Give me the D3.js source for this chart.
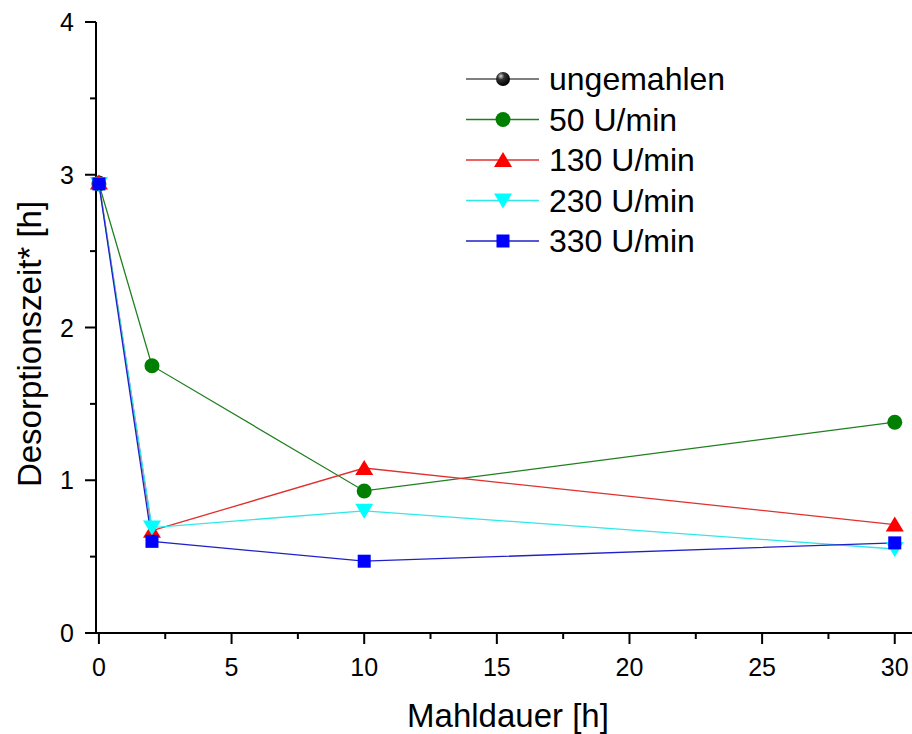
<!DOCTYPE html>
<html>
<head>
<meta charset="UTF-8">
<title>Desorptionszeit</title>
<script src="https://d3js.org/d3.v7.min.js"></script>
<style>
	body { margin: 0; background: #fff; }
	text { font-family: "Liberation Sans", Arial, sans-serif; }
</style>
</head>
<body>
	<div id="chart"></div>
	<script type="text/javascript">
		// Mahldauer [h]
		var mahldauer = [0, 2, 10, 30];
		var ungemahlen = [2.95];
		var u50 = [2.94, 1.75, 0.93, 1.38];
		var u130 = [2.95, 0.67, 1.08, 0.71];
		var u230 = [2.94, 0.69, 0.80, 0.55];
		var u330 = [2.94, 0.60, 0.47, 0.59];
		var xTicks = [0, 5, 10, 15, 20, 25, 30];
		var yTicks = [0, 1, 2, 3, 4];

		var series = [
			{ name : "ungemahlen", values : ungemahlen, color : "#000000", line : "#555555", symbol : "sphere" },
			{ name : "50 U/min", values : u50, color : "#007f00", line : "#1f7f1f", symbol : "circle" },
			{ name : "130 U/min", values : u130, color : "#ff0000", line : "#e03030", symbol : "up" },
			{ name : "230 U/min", values : u230, color : "#00ffff", line : "#30e8e8", symbol : "down" },
			{ name : "330 U/min", values : u330, color : "#0000ff", line : "#2020c8", symbol : "square" }
		];

		var width = 912, height = 734;
		var svg = d3.select("#chart").append("svg").attr("width", width).attr("height", height);

		var defs = svg.append("defs");
		var grad = defs.append("radialGradient").attr("id", "sphere").attr("cx", "35%").attr("cy", "30%").attr("r", "70%");
		grad.append("stop").attr("offset", "0%").attr("stop-color", "#d8d8d8");
		grad.append("stop").attr("offset", "35%").attr("stop-color", "#333");
		grad.append("stop").attr("offset", "100%").attr("stop-color", "#000");

		var x = d3.scaleLinear().domain([-0.11, 30.65]).range([96, 912]);
		var y = d3.scaleLinear().domain([0, 4]).range([633, 22]);

		// axes
		var xAxis = svg.append("g").attr("transform", "translate(0,633)");
		xAxis.append("line").attr("x1", 85).attr("x2", 912).attr("stroke", "#000").attr("stroke-width", 2);
		xAxis.selectAll(".minor").data(d3.range(2.5, 30, 5)).enter().append("line")
			.attr("x1", function(d) { return x(d); }).attr("x2", function(d) { return x(d); })
			.attr("y1", 0).attr("y2", 6).attr("stroke", "#000").attr("stroke-width", 2);
		xAxis.selectAll(".major").data(xTicks).enter().append("line")
			.attr("x1", function(d) { return x(d); }).attr("x2", function(d) { return x(d); })
			.attr("y1", 0).attr("y2", 11).attr("stroke", "#000").attr("stroke-width", 2);
		xAxis.selectAll(".lbl").data(xTicks).enter().append("text")
			.attr("x", function(d) { return x(d); }).attr("y", 43)
			.attr("text-anchor", "middle").attr("font-size", 25).text(function(d) { return d; });

		var yAxis = svg.append("g").attr("transform", "translate(96,0)");
		yAxis.append("line").attr("y1", y(4)).attr("y2", 634).attr("stroke", "#000").attr("stroke-width", 2);
		yAxis.selectAll(".minor").data(d3.range(0.5, 4, 1)).enter().append("line")
			.attr("y1", function(d) { return y(d); }).attr("y2", function(d) { return y(d); })
			.attr("x1", 0).attr("x2", -6).attr("stroke", "#000").attr("stroke-width", 2);
		yAxis.selectAll(".major").data(yTicks).enter().append("line")
			.attr("y1", function(d) { return y(d); }).attr("y2", function(d) { return y(d); })
			.attr("x1", 0).attr("x2", -11).attr("stroke", "#000").attr("stroke-width", 2);
		yAxis.selectAll(".lbl").data(yTicks).enter().append("text")
			.attr("x", -22).attr("y", function(d) { return y(d) + 9; })
			.attr("text-anchor", "end").attr("font-size", 25).text(function(d) { return d; });

		svg.append("text").attr("x", 508).attr("y", 727).attr("text-anchor", "middle")
			.attr("font-size", 33).text("Mahldauer [h]");
		svg.append("text").attr("transform", "translate(41,344) rotate(-90)")
			.attr("text-anchor", "middle").attr("font-size", 33).text("Desorptionszeit* [h]");

		// symbols
		var drawSymbol = function(g, s, cx, cy) {
			if (s.symbol === "sphere") {
				g.append("circle").attr("cx", cx).attr("cy", cy).attr("r", 7).attr("fill", "url(#sphere)");
			} else if (s.symbol === "circle") {
				g.append("circle").attr("cx", cx).attr("cy", cy).attr("r", 7.5).attr("fill", s.color);
			} else if (s.symbol === "square") {
				g.append("rect").attr("x", cx - 6.5).attr("y", cy - 6.5).attr("width", 13).attr("height", 13).attr("fill", s.color);
			} else if (s.symbol === "up") {
				g.append("path").attr("d", "M" + cx + "," + (cy - 8) + "L" + (cx + 9) + "," + (cy + 7) + "L" + (cx - 9) + "," + (cy + 7) + "Z").attr("fill", s.color);
			} else if (s.symbol === "down") {
				g.append("path").attr("d", "M" + cx + "," + (cy + 8) + "L" + (cx + 9) + "," + (cy - 7) + "L" + (cx - 9) + "," + (cy - 7) + "Z").attr("fill", s.color);
			}
		};

		var line = d3.line().x(function(d) { return x(d[0]); }).y(function(d) { return y(d[1]); });

		// lines first, then markers (later series on top)
		series.forEach(function(s) {
			var pts = s.values.map(function(v, i) { return [mahldauer[i], v]; });
			svg.append("path").datum(pts).attr("fill", "none").attr("stroke", s.line).attr("stroke-width", 1.3).attr("d", line);
		});
		series.forEach(function(s) {
			var g = svg.append("g");
			s.values.forEach(function(v, i) {
				drawSymbol(g, s, x(mahldauer[i]), y(v));
			});
		});

		// legend
		var legend = svg.append("g");
		series.forEach(function(s, i) {
			var ly = 79 + i * 40.5;
			legend.append("line").attr("x1", 466).attr("x2", 539).attr("y1", ly).attr("y2", ly).attr("stroke", s.line).attr("stroke-width", 1.3);
			drawSymbol(legend, s, 503, ly);
			legend.append("text").attr("x", 549).attr("y", ly + 11).attr("font-size", 32).text(s.name);
		});
	</script>
</body>
</html>
